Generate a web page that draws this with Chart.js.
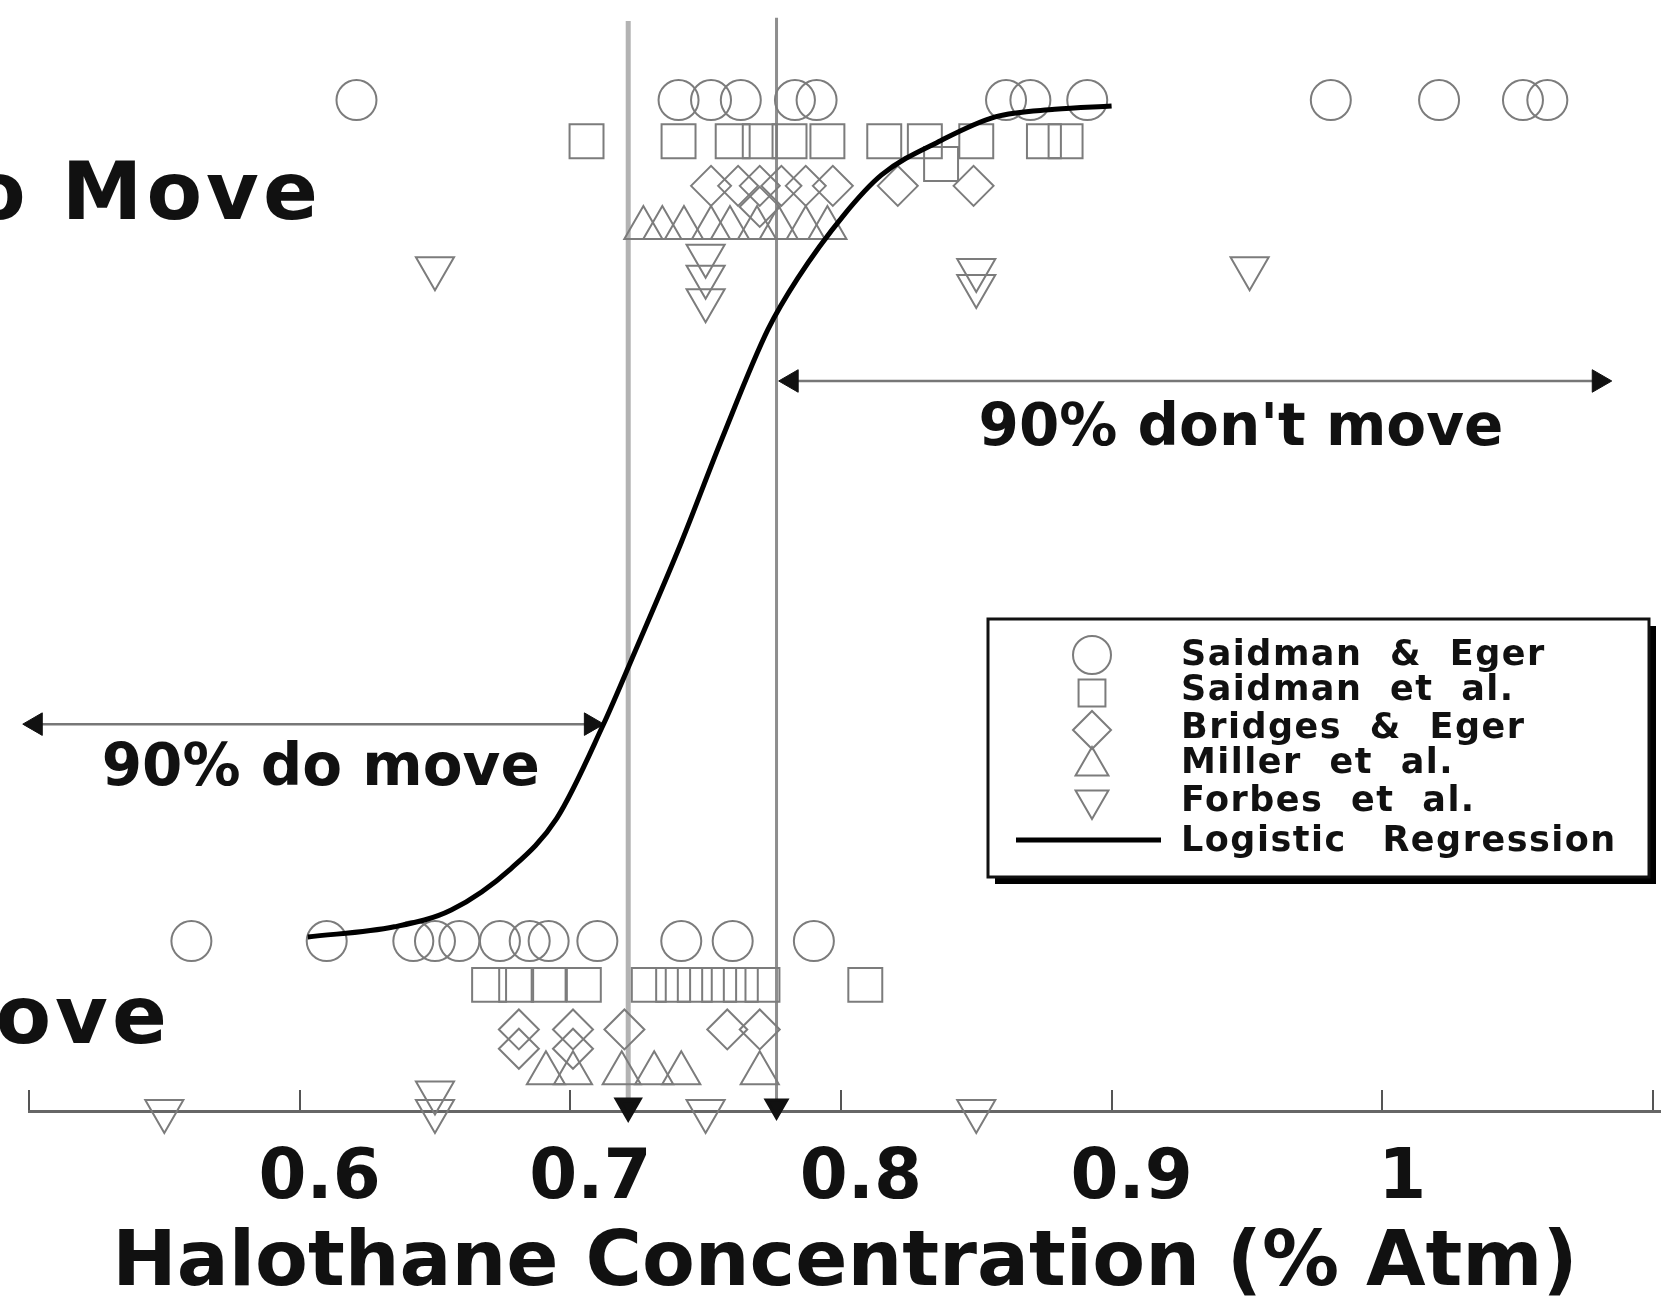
<!DOCTYPE html>
<html>
<head>
<meta charset="utf-8">
<title>Halothane concentration and movement</title>
<script src="https://cdn.jsdelivr.net/npm/chart.js@4.4.1/dist/chart.umd.min.js"></script>
<style>
  html, body { margin: 0; padding: 0; background: #fff; overflow: hidden; }
  #wrap { width: 1661px; height: 1308px; }
</style>
</head>
<body>
<div id="wrap"><canvas id="mac" width="1661" height="1308"></canvas></div>
<script>
// x = halothane concentration (% atm)
// y = response row: 1 = no move, 0 = move, each study stacked a little below the one before
const saidmanEgerNoMove = [[0.621, 1], [0.740, 1], [0.752, 1], [0.763, 1], [0.783, 1], [0.791, 1],
  [0.861, 1], [0.870, 1], [0.891, 1], [0.981, 1], [1.021, 1], [1.052, 1], [1.061, 1]];
const saidmanEgerMove = [[0.560, 0], [0.610, 0], [0.642, 0], [0.650, 0], [0.659, 0], [0.674, 0],
  [0.685, 0], [0.692, 0], [0.710, 0], [0.741, 0], [0.760, 0], [0.790, 0]];

const saidmanNoMove = [[0.706, 0.951], [0.740, 0.951], [0.760, 0.951], [0.770, 0.951], [0.781, 0.951],
  [0.795, 0.951], [0.816, 0.951], [0.831, 0.951], [0.850, 0.951], [0.875, 0.951], [0.883, 0.951], [0.837, 0.924]];
const saidmanMove = [[0.670, -0.052], [0.680, -0.052], [0.692, -0.052], [0.705, -0.052], [0.729, -0.052],
  [0.738, -0.052], [0.746, -0.052], [0.755, -0.052], [0.763, -0.052], [0.771, -0.052], [0.809, -0.052]];

const bridgesNoMove = [[0.752, 0.898], [0.762, 0.898], [0.770, 0.898], [0.778, 0.898], [0.787, 0.898],
  [0.797, 0.898], [0.821, 0.898], [0.849, 0.898], [0.770, 0.873]];
const bridgesMove = [[0.681, -0.105], [0.681, -0.128], [0.701, -0.105], [0.701, -0.128], [0.720, -0.105],
  [0.758, -0.105], [0.770, -0.105]];

const millerNoMove = [[0.727, 0.848], [0.734, 0.848], [0.742, 0.848], [0.752, 0.848], [0.759, 0.848],
  [0.769, 0.848], [0.777, 0.848], [0.787, 0.848], [0.795, 0.848]];
const millerMove = [[0.691, -0.157], [0.701, -0.157], [0.719, -0.157], [0.731, -0.157], [0.741, -0.157], [0.770, -0.157]];

const forbesNoMove = [[0.650, 0.800], [0.750, 0.815], [0.750, 0.790], [0.750, 0.762], [0.850, 0.798],
  [0.850, 0.779], [0.951, 0.800]];
const forbesMove = [[0.550, -0.202], [0.650, -0.202], [0.650, -0.180], [0.750, -0.202], [0.850, -0.202]];

// logistic regression curve
const curveX = [0.603, 0.635, 0.656, 0.678, 0.695, 0.712, 0.724, 0.741, 0.756, 0.773, 0.784, 0.801, 0.815, 0.837, 0.857, 0.879, 0.900];
const curveY = [0.005, 0.017, 0.037, 0.086, 0.146, 0.256, 0.345, 0.474, 0.597, 0.727, 0.788, 0.863, 0.911, 0.952, 0.980, 0.989, 0.993];

// 10% / 90% cut-off lines
const cutoffX = [0.7214, 0.7762];
const cutoffTop = [1.094, 1.098];

const xTicks = [0.5, 0.6, 0.7, 0.8, 0.9, 1.0, 1.1];
const xTickLabels = ['', '0.6', '0.7', '0.8', '0.9', '1', ''];

const FONT = "'DejaVu Sans', 'Liberation Sans', Arial, sans-serif";
const GREY = '#7c7c7c';

function pts(a) { return a.map(([x, y]) => ({x, y})); }

function study(label, style, rotation, radius, noMove, move) {
  return {
    label: label,
    data: pts(noMove.concat(move)),
    pointStyle: style,
    rotation: rotation,
    pointRadius: radius,
    borderColor: GREY,
    backgroundColor: 'rgba(0,0,0,0)',
    pointBorderWidth: 2,
    showLine: false,
    clip: false,
    inLegend: true
  };
}

function arrow(x1, x2, y) {
  return {
    data: pts([[x1, y], [x2, y]]),
    showLine: true,
    borderColor: '#777',
    borderWidth: 2.5,
    pointStyle: 'triangle',
    pointRotation: [-90, 90],
    pointRadius: 13,
    pointBackgroundColor: '#111',
    pointBorderColor: '#111',
    pointBorderWidth: 1,
    clip: false
  };
}

function cutoff(i, color, width) {
  return {
    data: pts([[cutoffX[i], cutoffTop[i]], [cutoffX[i], -0.196]]),
    showLine: true,
    borderColor: color,
    borderWidth: width,
    pointStyle: 'triangle',
    pointRotation: 180,
    pointRadius: [0, 12],
    pointBackgroundColor: '#111',
    pointBorderColor: '#111',
    clip: false
  };
}

// text placed in data units
const rowLabels = [
  {text: 'No Move', x: 0.6082, y: 0.884},
  {text: 'Move', x: 0.5524, y: -0.096}
];
const captions = [
  {text: '90% do move', x: 0.6078, y: 0.203},
  {text: "90% don't move", x: 0.9478, y: 0.608}
];

const notesPlugin = {
  id: 'notes',
  afterDraw(chart) {
    const ctx = chart.ctx;
    const x = chart.scales.x, y = chart.scales.y;
    ctx.save();
    ctx.fillStyle = '#111';
    ctx.textBaseline = 'middle';

    // row labels, cut off by the left edge like in the original
    ctx.font = 'bold 81px ' + FONT;
    ctx.letterSpacing = '4px';
    ctx.textAlign = 'right';
    rowLabels.forEach(r => ctx.fillText(r.text, x.getPixelForValue(r.x), y.getPixelForValue(r.y)));

    ctx.font = 'bold 58px ' + FONT;
    ctx.letterSpacing = '0px';
    ctx.textAlign = 'center';
    captions.forEach(c => ctx.fillText(c.text, x.getPixelForValue(c.x), y.getPixelForValue(c.y)));

    // legend box with drop shadow
    const bx = 988, by = 619, bw = 661, bh = 258;
    ctx.fillStyle = '#000';
    ctx.fillRect(bx + 7, by + 7, bw, bh);
    ctx.fillStyle = '#fff';
    ctx.fillRect(bx, by, bw, bh);
    ctx.strokeStyle = '#111';
    ctx.lineWidth = 3;
    ctx.strokeRect(bx, by, bw, bh);

    const symY = [655, 693, 730, 766, 800];
    const textY = [656, 691, 729, 764, 802];
    const sets = chart.data.datasets.filter(d => d.inLegend);
    ctx.font = 'bold 35px ' + FONT;
    ctx.letterSpacing = '1.5px';
    ctx.wordSpacing = '14px';
    ctx.textAlign = 'left';
    sets.forEach((d, i) => {
      ctx.strokeStyle = GREY;
      ctx.fillStyle = 'rgba(0,0,0,0)';
      ctx.lineWidth = 2;
      Chart.helpers.drawPoint(ctx, {pointStyle: d.pointStyle, radius: 19, rotation: d.rotation, borderWidth: 2}, 1092, symY[i]);
      ctx.fillStyle = '#111';
      ctx.fillText(d.label, 1181, textY[i]);
    });
    ctx.strokeStyle = '#000';
    ctx.lineWidth = 5;
    ctx.beginPath();
    ctx.moveTo(1016, 840);
    ctx.lineTo(1161, 840);
    ctx.stroke();
    ctx.fillStyle = '#111';
    ctx.wordSpacing = '22px';
    ctx.fillText(chart.data.datasets[0].label, 1181, 842);
    ctx.restore();
  }
};

const ctx = document.getElementById('mac').getContext('2d');

new Chart(ctx, {
  type: 'scatter',
  data: {
    datasets: [
      {
        label: 'Logistic Regression',
        data: curveX.map((v, i) => ({x: v, y: curveY[i]})),
        showLine: true,
        borderColor: '#000',
        borderWidth: 5,
        pointRadius: 0,
        cubicInterpolationMode: 'monotone',
        clip: false
      },
      study('Saidman & Eger', 'circle', 0, 20, saidmanEgerNoMove, saidmanEgerMove),
      study('Saidman et al.', 'rect', 0, 24, saidmanNoMove, saidmanMove),
      study('Bridges & Eger', 'rectRot', 0, 20, bridgesNoMove, bridgesMove),
      study('Miller et al.', 'triangle', 0, 22, millerNoMove, millerMove),
      study('Forbes et al.', 'triangle', 180, 22, forbesNoMove, forbesMove),
      arrow(0.5025, 0.7076, 0.258),
      arrow(0.7818, 1.080, 0.666),
      cutoff(0, '#b3b3b3', 5),
      cutoff(1, '#8e8e8e', 3)
    ]
  },
  options: {
    responsive: false,
    animation: false,
    events: [],
    layout: { autoPadding: false, padding: { left: 29, right: 0, top: 0, bottom: 0 } },
    plugins: {
      legend: { display: false },
      tooltip: { enabled: false }
    },
    scales: {
      x: {
        type: 'linear',
        min: 0.5,
        max: 1.103,
        afterBuildTicks: s => { s.ticks = xTicks.map(v => ({value: v})); },
        afterFit: s => { s.height = 197; },
        grid: { drawOnChartArea: false, drawTicks: true, tickLength: -21, color: '#555', lineWidth: 2 },
        border: { display: true, color: '#666', width: 3 },
        ticks: {
          callback: (v, i) => xTickLabels[i],
          autoSkip: false,
          maxRotation: 0,
          padding: 0,
          labelOffset: 20,
          color: '#111',
          // tall line box pushes the labels down without adding side padding
          font: { family: FONT, size: 69, weight: 'bold', lineHeight: 2.6 }
        },
        title: {
          display: true,
          text: 'Halothane Concentration (% Atm)',
          color: '#111',
          padding: { top: 0, bottom: 5 },
          font: { family: FONT, size: 77, weight: 'bold', lineHeight: 1 }
        }
      },
      y: {
        type: 'linear',
        display: false,
        min: -0.202,
        max: 1.119
      }
    }
  },
  plugins: [notesPlugin]
});
</script>
</body>
</html>
